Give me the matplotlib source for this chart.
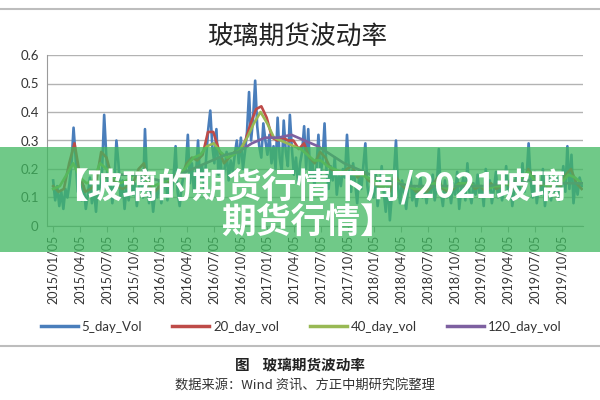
import numpy as np
import matplotlib
matplotlib.use("Agg")
import matplotlib.pyplot as plt
from matplotlib.patches import Rectangle
from matplotlib.lines import Line2D

plt.rcParams['font.family'] = ['Lato', 'Noto Sans CJK SC', 'DejaVu Sans']

# ---------------- data ----------------
tick_labels = ["2015/01/05", "2015/04/05", "2015/07/05", "2015/10/05",
               "2016/01/05", "2016/04/05", "2016/07/05", "2016/10/05",
               "2017/01/05", "2017/04/05", "2017/07/05", "2017/10/05",
               "2018/01/05", "2018/04/05", "2018/07/05", "2018/10/05",
               "2019/01/05", "2019/04/05", "2019/07/05", "2019/10/05"]

# 5-day volatility, ~weekly readings (13 per quarter)
vol5 = [
    0.16, 0.09, 0.14, 0.07, 0.12, 0.06, 0.13, 0.10, 0.15, 0.22, 0.345, 0.24, 0.12,
    0.18, 0.09, 0.14, 0.06, 0.11, 0.17, 0.08, 0.13, 0.05, 0.15, 0.10, 0.20, 0.39,
    0.25, 0.12, 0.18, 0.08, 0.15, 0.30, 0.22, 0.10, 0.16, 0.06, 0.14, 0.09, 0.17,
    0.11, 0.15, 0.07, 0.13, 0.19, 0.10, 0.34, 0.16, 0.08, 0.14, 0.05, 0.12, 0.10,
    0.16, 0.08, 0.13, 0.19, 0.09, 0.15, 0.11, 0.17, 0.28, 0.12, 0.07, 0.14, 0.18,
    0.20, 0.32, 0.15, 0.22, 0.12, 0.18, 0.30, 0.16, 0.21, 0.13, 0.24, 0.34, 0.405,
    0.28, 0.22, 0.34, 0.18, 0.24, 0.14, 0.20, 0.26, 0.16, 0.23, 0.19, 0.25, 0.30,
    0.22, 0.31, 0.20, 0.26, 0.33, 0.47, 0.30, 0.38, 0.51, 0.35, 0.28, 0.24, 0.36,
    0.30, 0.25, 0.32, 0.22, 0.28, 0.20, 0.38, 0.24, 0.19, 0.37, 0.26, 0.21, 0.39,
    0.27, 0.18, 0.24, 0.15, 0.22, 0.26, 0.35, 0.20, 0.34, 0.17, 0.23, 0.14, 0.20,
    0.32, 0.18, 0.23, 0.36, 0.19, 0.13, 0.21, 0.16, 0.24, 0.11, 0.18, 0.14, 0.20,
    0.17, 0.32, 0.19, 0.12, 0.22, 0.15, 0.08, 0.18, 0.13, 0.21, 0.29, 0.14, 0.09,
    0.15, 0.10, 0.19, 0.07, 0.13, 0.21, 0.12, 0.05, 0.16, 0.02, 0.11, 0.18, 0.30,
    0.14, 0.08, 0.16, 0.11, 0.06, 0.13, 0.19, 0.09, 0.14, 0.07, 0.12, 0.17, 0.10,
    0.13, 0.08, 0.15, 0.11, 0.18, 0.09, 0.14, 0.27, 0.12, 0.07, 0.16, 0.10, 0.14,
    0.08, 0.15, 0.11, 0.19, 0.06, 0.13, 0.17, 0.09, 0.22, 0.12, 0.08, 0.15, 0.11,
    0.18, 0.10, 0.14, 0.07, 0.20, 0.12, 0.16, 0.08, 0.13, 0.19, 0.10, 0.15, 0.09,
    0.14, 0.21, 0.11, 0.16, 0.07, 0.13, 0.18, 0.10, 0.15, 0.22, 0.12, 0.17, 0.29,
    0.16, 0.10, 0.19, 0.08, 0.14, 0.11, 0.20, 0.07, 0.13, 0.18, 0.09, 0.15, 0.12,
    0.17, 0.09, 0.14, 0.21, 0.12, 0.28, 0.13, 0.25, 0.08, 0.16, 0.11, 0.17, 0.14,
]

# 20-day volatility (5 per quarter)
vol20 = [
    0.14, 0.12, 0.13, 0.22, 0.29,
    0.18, 0.12, 0.13, 0.15, 0.26,
    0.24, 0.17, 0.14, 0.13, 0.14,
    0.15, 0.20, 0.22, 0.14, 0.12,
    0.14, 0.16, 0.15, 0.18, 0.17,
    0.22, 0.24, 0.23, 0.25, 0.33,
    0.33, 0.27, 0.22, 0.24, 0.26,
    0.26, 0.30, 0.36, 0.41, 0.42,
    0.38, 0.31, 0.30, 0.31, 0.30,
    0.30, 0.27, 0.29, 0.24, 0.22,
    0.26, 0.24, 0.20, 0.19, 0.18,
    0.20, 0.21, 0.17, 0.19, 0.16,
    0.15, 0.14, 0.13, 0.12, 0.18,
    0.15, 0.13, 0.14, 0.12, 0.13,
    0.12, 0.14, 0.17, 0.13, 0.12,
    0.13, 0.15, 0.14, 0.16, 0.13,
    0.14, 0.12, 0.15, 0.13, 0.14,
    0.15, 0.13, 0.16, 0.14, 0.20,
    0.17, 0.14, 0.15, 0.13, 0.15,
    0.14, 0.18, 0.20, 0.15, 0.13,
]

# 40-day volatility (4 per quarter)
vol40 = [
    0.13, 0.14, 0.18, 0.22,
    0.17, 0.15, 0.16, 0.22,
    0.20, 0.17, 0.15, 0.16,
    0.18, 0.19, 0.16, 0.14,
    0.15, 0.16, 0.17, 0.18,
    0.21, 0.24, 0.25, 0.28,
    0.29, 0.26, 0.24, 0.25,
    0.27, 0.31, 0.36, 0.40,
    0.36, 0.31, 0.30, 0.29,
    0.28, 0.27, 0.25, 0.23,
    0.23, 0.21, 0.20, 0.19,
    0.19, 0.18, 0.18, 0.17,
    0.16, 0.14, 0.14, 0.16,
    0.15, 0.14, 0.13, 0.13,
    0.14, 0.15, 0.14, 0.13,
    0.14, 0.15, 0.15, 0.14,
    0.14, 0.13, 0.14, 0.14,
    0.15, 0.15, 0.17, 0.19,
    0.16, 0.15, 0.14, 0.15,
    0.15, 0.18, 0.17, 0.15,
]

# 120-day volatility (2 per quarter, starting mid-2015)
vol120 = [0.17, 0.18, 0.18, 0.17, 0.16, 0.17, 0.19, 0.21, 0.23, 0.25,
          0.26, 0.29, 0.31, 0.31, 0.32, 0.30, 0.28, 0.25, 0.22, 0.20,
          0.18, 0.16, 0.15, 0.14, 0.14, 0.14, 0.14, 0.14, 0.14, 0.14,
          0.15, 0.16, 0.16, 0.15, 0.15, 0.15, 0.15]

series_names = ["5_day_Vol", "20_day_vol", "40_day_vol", "120_day_vol"]
colors = ["#4a7ebb", "#be4b48", "#98b954", "#7d60a0"]

# ---------------- figure ----------------
fig = plt.figure(figsize=(6, 4), dpi=100)
ax = fig.add_axes([47/600, 1-226/400, 536/600, 171/400])

end = 19.75
x5 = np.linspace(0, end, len(vol5))
x20 = np.linspace(0, end, len(vol20))
x40 = np.linspace(0, end, len(vol40))
x120 = np.linspace(2, end, len(vol120))

lw = 1.9
ax.plot(x5, vol5, color=colors[0], lw=lw, label=series_names[0], zorder=3)
ax.plot(x20, vol20, color=colors[1], lw=lw, label=series_names[1], zorder=4)
ax.plot(x40, vol40, color=colors[2], lw=lw, label=series_names[2], zorder=5)
ax.plot(x120, vol120, color=colors[3], lw=lw, label=series_names[3], zorder=6)

ax.set_ylim(0, 0.6)
ax.set_xlim(-0.23, end + 0.05)
ax.set_yticks(np.arange(0, 0.61, 0.1))
ax.set_yticklabels(["0", "0.1", "0.2", "0.3", "0.4", "0.5", "0.6"])
ax.set_xticks(np.arange(len(tick_labels)))
ax.set_xticklabels(tick_labels, rotation=90)
ax.grid(axis='y', color='#b3b3b3', lw=1.0)
ax.set_axisbelow(True)
for s in ['top', 'right']:
    ax.spines[s].set_visible(False)
for s in ['left', 'bottom']:
    ax.spines[s].set_color('#9a9a9a')
ax.tick_params(axis='y', length=0, pad=6, labelsize=9.5, labelcolor='#333333')
ax.tick_params(axis='x', length=4, color='#9a9a9a', pad=2, labelsize=9, labelcolor='#333333')

fig.text(0.497, 1-38/400, "玻璃期货波动率", ha='center', va='center',
         fontsize=18.5, family=['Noto Sans CJK SC'], color='#222222')

leg = fig.legend(loc='center', bbox_to_anchor=(0.502, 1-327/400), ncol=4,
                 frameon=False, fontsize=9.5, handlelength=2.8, handletextpad=0.3,
                 columnspacing=2.3)
for l in leg.get_lines():
    l.set_linewidth(2.5)
for t in leg.get_texts():
    t.set_color('#333333')

# separator lines
fig.add_artist(Line2D([0, 1], [1-9/400]*2, transform=fig.transFigure, color='#bdbdbd', lw=1.5))
fig.add_artist(Line2D([0, 1], [1-346/400]*2, transform=fig.transFigure, color='#bdbdbd', lw=1.5))

fig.text(0.5, 1-365/400, "图    玻璃期货波动率", ha='center', va='center', fontsize=10.5,
         fontweight='bold', family=['Noto Sans CJK SC'], color='#222222')
fig.text(0.508, 1-386/400, "数据来源：Wind 资讯、方正中期研究院整理", ha='center', va='center',
         fontsize=9.5, family=['Noto Sans CJK SC', 'DejaVu Sans'], color='#333333')

# overlay banner
fig.add_artist(Rectangle((0, 1-252/400), 1, 105/400, transform=fig.transFigure,
                         facecolor=(64/255, 184/255, 96/255), alpha=0.75, edgecolor='none', zorder=10))
fig.text(0.515, 1-186/400, "【玻璃的期货行情下周/2021玻璃", ha='center', va='center', fontsize=25,
         fontweight='bold', family=['Noto Sans CJK SC'], color='white', zorder=11)
fig.text(0.513, 1-222/400, "期货行情】", ha='center', va='center', fontsize=25,
         fontweight='bold', family=['Noto Sans CJK SC'], color='white', zorder=11)

fig.savefig("out.png", dpi=100)
